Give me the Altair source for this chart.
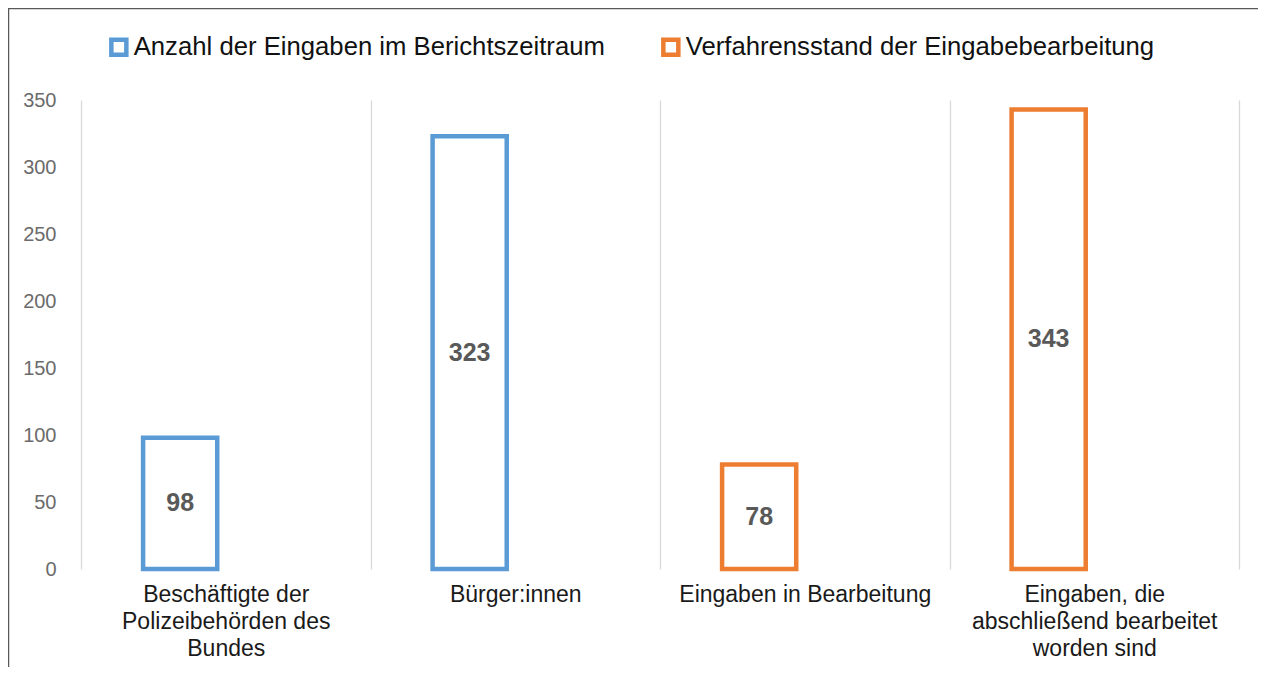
import altair as alt
import pandas as pd

categories = [
    "Beschäftigte der Polizeibehörden des Bundes",
    "Bürger:innen",
    "Eingaben in Bearbeitung",
    "Eingaben, die abschließend bearbeitet worden sind",
]
values = [98, 323, 78, 343]
series = [
    "Anzahl der Eingaben im Berichtszeitraum",
    "Anzahl der Eingaben im Berichtszeitraum",
    "Verfahrensstand der Eingabebearbeitung",
    "Verfahrensstand der Eingabebearbeitung",
]
label_lines = [
    ["Beschäftigte der", "Polizeibehörden des", "Bundes"],
    ["Bürger:innen"],
    ["Eingaben in Bearbeitung"],
    ["Eingaben, die", "abschließend bearbeitet", "worden sind"],
]
series_names = ["Anzahl der Eingaben im Berichtszeitraum", "Verfahrensstand der Eingabebearbeitung"]
series_colors = ["#5B9BD5", "#ED7D31"]
y_ticks = [0, 50, 100, 150, 200, 250, 300, 350]

df = pd.DataFrame({"category": categories, "value": values, "series": series, "slot": ["a"] * 4})

# multi-line label expression
def js_arr(lines):
    return "[" + ",".join("'" + l + "'" for l in lines) + "]"

expr = "datum.label"
for cat, lines in reversed(list(zip(categories, label_lines))):
    expr = f"datum.label == '{cat}' ? {js_arr(lines)} : ({expr})"

W, H = 1158, 469

x_enc = alt.X(
    "category:N",
    sort=categories,
    scale=alt.Scale(paddingInner=0, paddingOuter=0),
    axis=alt.Axis(
        title=None,
        labelAngle=0,
        labelExpr=expr,
        labelFont="Liberation Sans",
        labelFontSize=23,
        labelColor="#1a1a1a",
        labelLineHeight=27,
        labelBaseline="top",
        labelPadding=14,
        labelLimit=400,
        domain=False,
        ticks=False,
        grid=True,
        gridColor="#D9D9D9",
        gridWidth=1.3,
        tickBand="extent",
    ),
)
xoff = alt.XOffset("slot:N", scale=alt.Scale(domain=["a", "b"], paddingInner=0.187, paddingOuter=0.681))
y_scale = alt.Scale(domain=[0, 350], nice=False)

bars = alt.Chart(df).mark_bar(fill="white", strokeWidth=4.5).encode(
    x=x_enc,
    xOffset=xoff,
    y=alt.Y(
        "value:Q",
        scale=y_scale,
        axis=alt.Axis(
            title=None,
            values=y_ticks,
            labelFont="Liberation Sans",
            labelFontSize=20,
            labelColor="#6b6b6b",
            labelPadding=25,
            domain=False,
            ticks=False,
            grid=False,
        ),
    ),
    stroke=alt.Stroke(
        "series:N",
        scale=alt.Scale(domain=series_names, range=series_colors),
        legend=alt.Legend(
            title=None,
            orient="none",
            legendX=25,
            legendY=-66,
            direction="horizontal",
            symbolType="square",
            symbolSize=225,
            symbolStrokeWidth=4.5,
            symbolFillColor="white",
            symbolOpacity=1,
            labelFont="Liberation Sans",
            labelFontSize=25.7,
            labelColor="#111111",
            labelOffset=2,
            columnPadding=49,
            labelLimit=600,
        ),
    ),
)

labels = alt.Chart(df).transform_calculate(mid="datum.value / 2").mark_text(
    font="Liberation Sans", fontSize=25, fontWeight="bold", color="#595959", baseline="middle"
).encode(
    x=alt.X("category:N", sort=categories),
    xOffset=xoff,
    y=alt.Y("mid:Q", scale=y_scale),
    text=alt.Text("value:Q"),
)

frame_df = pd.DataFrame({"k": [0]})
top_border = alt.Chart(frame_df).mark_rule(color="#595959", strokeWidth=1.5).encode(
    x=alt.value(-73), x2=alt.value(W + 19), y=alt.value(-91.5)
)
left_border = alt.Chart(frame_df).mark_rule(color="#595959", strokeWidth=1.5).encode(
    x=alt.value(-72.5), y=alt.value(-92), y2=alt.value(H + 98)
)

chart = alt.layer(bars, labels, top_border, left_border).properties(
    width=W,
    height=H,
    autosize=alt.AutoSizeParams(type="none"),
    padding={"left": 73, "top": 92, "right": 19, "bottom": 98},
).configure_view(stroke=None)

chart.save("out.html", embed_options={"renderer": "svg", "actions": False})
